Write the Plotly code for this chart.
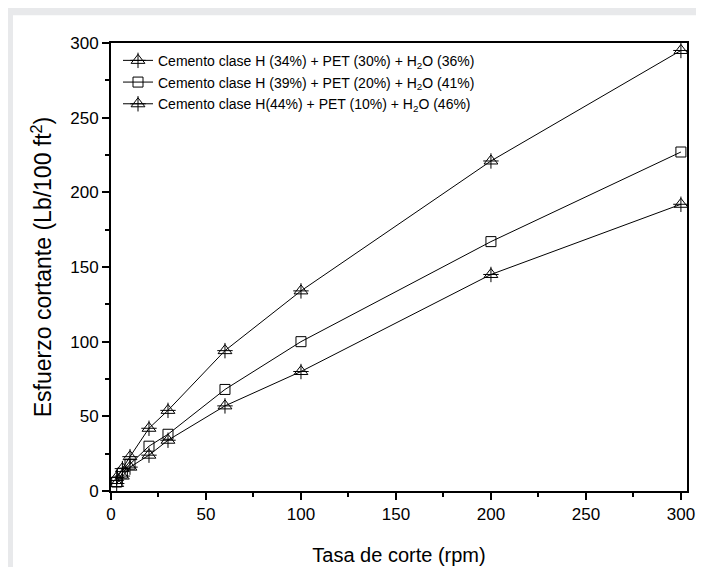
import plotly.graph_objects as go

# Data
rpm = [3, 6, 10, 20, 30, 60, 100, 200, 300]
s1_name = "Cemento clase H (34%) + PET (30%) + H<sub>2</sub>O (36%)"
s2_name = "Cemento clase H (39%) + PET (20%) + H<sub>2</sub>O (41%)"
s3_name = "Cemento clase H(44%) + PET (10%) + H<sub>2</sub>O (46%)"
s1 = [9, 15, 23, 42, 54, 94, 134, 221, 295]
s2 = [6, 12, 18, 30, 38, 68, 100, 167, 227]
s3 = [5, 10, 16, 24, 34, 57, 80, 145, 192]

x_ticks = [0, 50, 100, 150, 200, 250, 300]
y_ticks = [0, 50, 100, 150, 200, 250, 300]

W, H = 704, 567
L, R, T, B = 103, 25, 35, 78
pw, ph = W - L - R, H - T - B

FONT = "Liberation Sans, Arial, sans-serif"
fig = go.Figure()

tri = dict(symbol="triangle-up-open", size=12, color="black", line=dict(width=1, color="black"))
cross = dict(symbol="cross-thin-open", size=11, color="black", line=dict(width=1, color="black"))
sq = dict(symbol="square-open", size=10, color="black", line=dict(width=1, color="black"))
ln = dict(color="black", width=1)

fig.add_trace(go.Scatter(x=rpm, y=s1, mode="lines+markers", name=s1_name, line=ln, marker=tri,
                         legend="legend", showlegend=True))
fig.add_trace(go.Scatter(x=rpm, y=s1, mode="markers", name=" ", marker=cross, legend="legend4",
                         showlegend=True, hoverinfo="skip"))
fig.add_trace(go.Scatter(x=rpm, y=s2, mode="lines+markers", name=s2_name, line=ln, marker=sq,
                         legend="legend2", showlegend=True))
fig.add_trace(go.Scatter(x=rpm, y=s3, mode="lines+markers", name=s3_name, line=ln, marker=tri,
                         legend="legend3", showlegend=True))
fig.add_trace(go.Scatter(x=rpm, y=s3, mode="markers", name=" ", marker=cross, legend="legend5",
                         showlegend=True, hoverinfo="skip"))

def leg(ypix):
    return dict(x=(110 - L) / pw, y=1 - (ypix - T) / ph, xanchor="left", yanchor="middle",
                bgcolor="rgba(0,0,0,0)", borderwidth=0, visible=True,
                font=dict(family=FONT, size=14, color="black"))

axis_common = dict(showline=True, linecolor="black", linewidth=2, mirror=True,
                   ticks="outside", ticklen=7, tickwidth=1.5, tickcolor="black",
                   showgrid=False, zeroline=False,
                   tickfont=dict(family=FONT, size=17, color="black"),
                   minor=dict(ticks="outside", ticklen=4, tickwidth=1.5, tickcolor="black", dtick=25))

fig.update_layout(
    width=W, height=H,
    showlegend=True,
    margin=dict(l=L, r=R, t=T, b=B, pad=0),
    paper_bgcolor="#e8e9eb", plot_bgcolor="white",
    font=dict(family=FONT, color="black"),
    legend=leg(53), legend2=leg(75), legend3=leg(97), legend4=leg(53), legend5=leg(97),
    xaxis=dict(range=[0, 303.2], tickvals=x_ticks,
               title=dict(text="Tasa de corte (rpm)", font=dict(family=FONT, size=20), standoff=25),
               **axis_common),
    yaxis=dict(range=[0, 300], tickvals=y_ticks,
               title=dict(text="Esfuerzo cortante (Lb/100 ft<sup>2</sup>)", font=dict(family=FONT, size=23), standoff=12),
               **axis_common),
    shapes=[dict(type="rect", xref="paper", yref="paper", layer="below",
                 x0=(5 - L) / pw, x1=1 + (R + 5) / pw,
                 y0=-(B + 5) / ph, y1=1 + (T - 7) / ph,
                 fillcolor="white", line=dict(width=0))],
)

fig.write_html("out.html")
